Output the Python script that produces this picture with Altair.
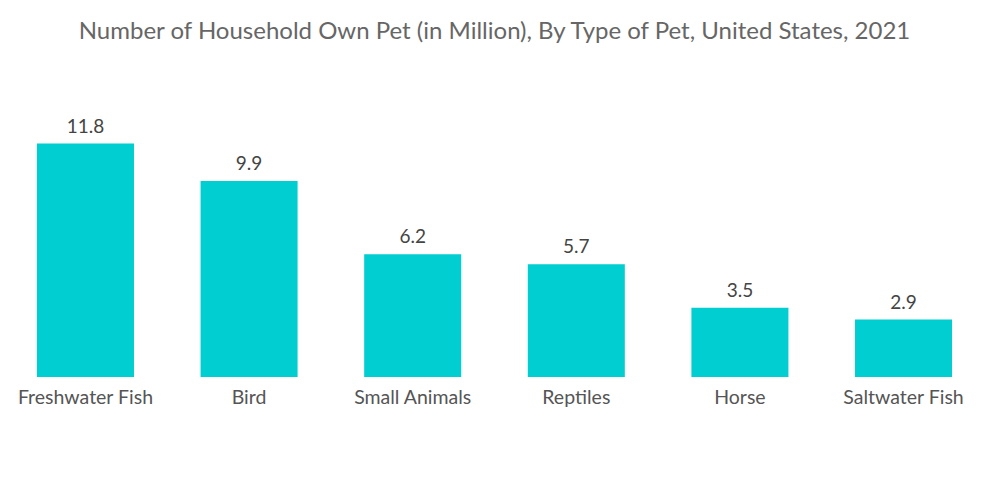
import altair as alt
import pandas as pd

categories = ["Freshwater Fish", "Bird", "Small Animals", "Reptiles", "Horse", "Saltwater Fish"]
values = [11.8, 9.9, 6.2, 5.7, 3.5, 2.9]

df = pd.DataFrame({"pet": categories, "value": values})

base = alt.Chart(df).encode(
    x=alt.X("pet:N", sort=categories, title=None,
            scale=alt.Scale(paddingInner=0.407, paddingOuter=0.177),
            axis=alt.Axis(labelAngle=0, ticks=False, domain=False, labelPadding=11,
                          labelFontSize=19.5, labelColor="#555555", labelFont="Lato")),
    y=alt.Y("value:Q", title=None, scale=alt.Scale(domain=[0, 14]), axis=None),
)

bars = base.mark_bar(color="#00CED1")
labels = base.mark_text(dy=-17, fontSize=19, color="#444444", font="Lato").encode(
    text=alt.Text("value:Q", format=".1f"))

chart = (bars + labels).properties(
    width=973, height=277,
    title=alt.TitleParams("Number of Household Own Pet (in Million), By Type of Pet, United States, 2021",
                          fontSize=24, font="Lato", fontWeight="normal", color="#666666",
                          anchor="middle", offset=56),
).configure(padding={"left": 0, "right": 0, "top": 12, "bottom": 0}).configure_view(strokeWidth=0)

chart.save("out.html", embed_options={"renderer": "svg", "actions": False})
